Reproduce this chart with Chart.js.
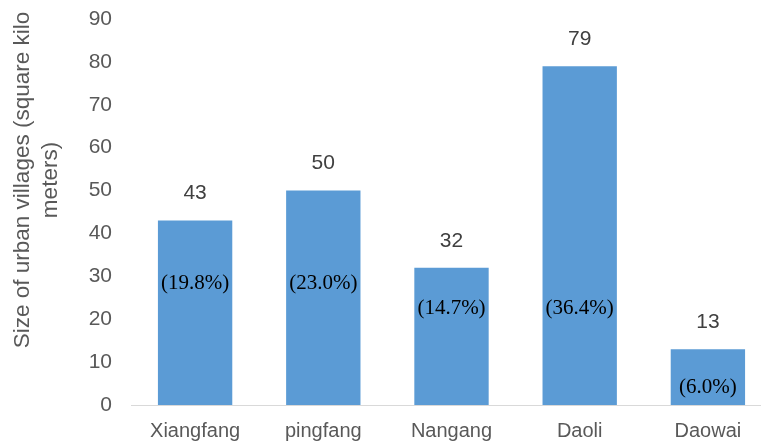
<!DOCTYPE html>
<html>
<head>
<meta charset="utf-8">
<script src="https://cdn.jsdelivr.net/npm/chart.js@4"></script>
<style>
    html, body { margin: 0; padding: 0; background: #fff; overflow: hidden; }
    #wrap { position: relative; width: 772px; height: 445px; }
</style>
</head>
<body>
<div id="wrap"><canvas id="villageChart"></canvas></div>
<script>
// Chart data
const districts = ['Xiangfang', 'pingfang', 'Nangang', 'Daoli', 'Daowai'];
const villageArea = [43, 50, 32, 79, 13];
const areaShare = ['(19.8%)', '(23.0%)', '(14.7%)', '(36.4%)', '(6.0%)'];
const yTicks = [0, 10, 20, 30, 40, 50, 60, 70, 80, 90];
const yTitle = ['Size of urban villages (square kilo', 'meters)'];

const sansFont = "'Liberation Sans', Arial, sans-serif";
const serifFont = "'Liberation Serif', 'Times New Roman', serif";

// where the share label sits on each bar (data units)
const shareLabelAt = [28.4, 28.4, 22.6, 22.6, 4.2];

// Value and share labels drawn on top of the bars
const barLabels = {
    id: 'barLabels',
    afterDatasetsDraw(chart) {
        const { ctx } = chart;
        const yScale = chart.scales.y;
        const meta = chart.getDatasetMeta(0);
        ctx.save();
        ctx.textAlign = 'center';
        ctx.textBaseline = 'middle';
        meta.data.forEach((bar, i) => {
            ctx.fillStyle = '#404040';
            ctx.font = '21px ' + sansFont;
            ctx.fillText(String(villageArea[i]), bar.x, bar.y - 27);

            ctx.fillStyle = '#000';
            ctx.font = '21px ' + serifFont;
            ctx.fillText(areaShare[i], bar.x, yScale.getPixelForValue(shareLabelAt[i]));
        });
        ctx.restore();
    }
};

// Y axis title, two rotated lines sitting a bit above the plot's middle
const axisTitle = {
    id: 'axisTitle',
    afterDraw(chart) {
        const { ctx } = chart;
        ctx.save();
        ctx.translate(37, 180);
        ctx.rotate(-Math.PI / 2);
        ctx.textAlign = 'center';
        ctx.textBaseline = 'middle';
        ctx.fillStyle = '#595959';
        ctx.font = '22.5px ' + sansFont;
        ctx.fillText(yTitle[0], 0, -14);
        ctx.fillText(yTitle[1], 0, 14);
        ctx.restore();
    }
};

new Chart(document.getElementById('villageChart'), {
    type: 'bar',
    data: {
        labels: districts,
        datasets: [{
            data: villageArea,
            backgroundColor: '#5b9bd5',
            borderWidth: 0,
            barPercentage: 1,
            categoryPercentage: 0.58,
        }]
    },
    options: {
        responsive: true,
        maintainAspectRatio: false,
        animation: false,
        layout: {
            padding: { top: 19, right: 0, bottom: 0, left: 0 },
        },
        plugins: {
            legend: { display: false },
            tooltip: { enabled: false },
        },
        scales: {
            x: {
                afterFit(scale) {
                    scale.height = 40;
                },
                grid: { display: false },
                border: { color: '#d9d9d9', width: 1 },
                ticks: {
                    color: '#595959',
                    font: { family: sansFont, size: 20 },
                    padding: 6,
                },
            },
            y: {
                min: 0,
                max: 90,
                afterBuildTicks(scale) {
                    scale.ticks = yTicks.map(v => ({ value: v }));
                },
                afterFit(scale) {
                    scale.width = 131;
                    scale.paddingTop = 0;
                    scale.paddingBottom = 0;
                },
                grid: { display: false },
                border: { display: false },
                ticks: {
                    color: '#595959',
                    font: { family: sansFont, size: 21 },
                    padding: 11,
                },
            },
        },
    },
    plugins: [barLabels, axisTitle],
});
</script>
</body>
</html>
